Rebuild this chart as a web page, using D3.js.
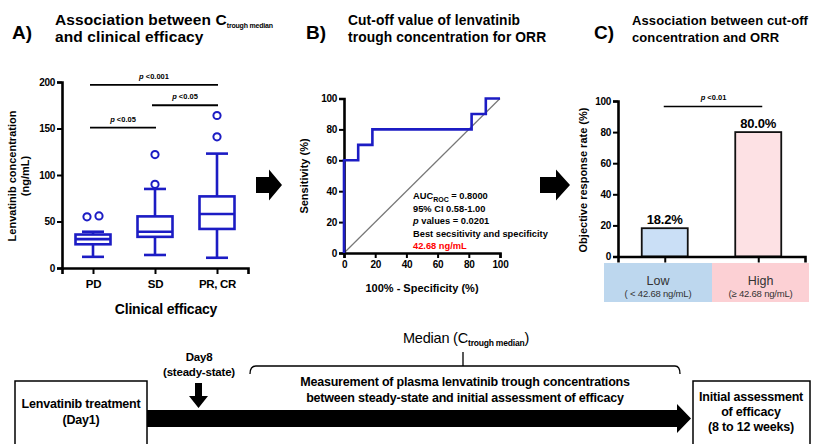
<!DOCTYPE html>
<html>
<head>
<meta charset="utf-8">
<title>lenvatinib</title>
<script src="https://cdn.jsdelivr.net/npm/d3@7"></script>
<style>
body { margin: 0; background: #fff; }
svg { font-family: "Liberation Sans", Arial, sans-serif; }
</style>
</head>
<body>
<svg width="821" height="444"></svg>
<script>

// A) trough concentration by clinical efficacy (box plot)
var groups = ["PD", "SD", "PR, CR"];
var whiskerLow = [12, 14, 11];
var q1 = [25.5, 33.5, 42];
var medians = [31, 39, 58];
var q3 = [36, 55.5, 77];
var whiskerHigh = [39, 85, 123];
var outliers = [[55, 56], [90, 122], [141, 164]];
var concTicks = [0, 50, 100, 150, 200];
var compPairs = [[0, 2], [1, 2], [0, 1]];
var compLevels = [197, 175, 151];
var compLabels = ["<0.001", "<0.05", "<0.05"];

// B) ROC curve
var fpr = [0, 0, 9.1, 9.1, 18.2, 18.2, 81.8, 81.8, 90.9, 90.9, 100];
var tpr = [0, 60, 60, 70, 70, 80, 80, 90, 90, 100, 100];
var pctTicks = [0, 20, 40, 60, 80, 100];
var rocNotes = ["= 0.8000", "95% CI 0.58-1.00", "values = 0.0201", "Best secsitivity and specificity", "42.68 ng/mL"];

// C) ORR by cut-off
var cutGroups = ["Low", "High"];
var cutRanges = ["( < 42.68 ng/mL)", "(\u2265 42.68 ng/mL)"];
var orr = [18.2, 80.0];
var orrP = "<0.01";

var blue = "#1c1cc4";
var svg = d3.select("svg");

function styleAxis(g) {
  g.select(".domain").attr("stroke", "#000").attr("stroke-width", 2.6);
  g.selectAll(".tick line").attr("stroke", "#000").attr("stroke-width", 2);
  g.selectAll(".tick text").attr("fill", "#000").attr("font-weight", "bold")
    .attr("font-size", 10).attr("letter-spacing", -0.3)
    .attr("font-family", "Liberation Sans, Arial, sans-serif");
}

function pText(g, x, y, val, size) {
  var t = g.append("text").attr("x", x).attr("y", y).attr("text-anchor", "middle")
    .attr("font-size", size).attr("font-weight", "bold");
  t.append("tspan").attr("font-style", "italic").text("p ");
  t.append("tspan").text(val);
}

function titleLine(x, y, s, size) {
  return svg.append("text").attr("x", x).attr("y", y).attr("font-weight", "bold")
    .attr("font-size", size).attr("letter-spacing", 0.1).text(s);
}

// panel letters and titles
var letters = [["A)", 12], ["B)", 306], ["C)", 594]];
letters.forEach(function(l) {
  svg.append("text").attr("x", l[1]).attr("y", 39).attr("font-size", 19)
    .attr("font-weight", "bold").text(l[0]);
});

var tA = titleLine(55, 25, "Association between C", 15.5);
tA.append("tspan").attr("font-size", 7).attr("dy", 3).attr("letter-spacing", -0.2).text("trough median");
titleLine(55, 42, "and clinical efficacy", 15.5);
titleLine(348, 25, "Cut-off value of lenvatinib", 13.8);
titleLine(348, 42, "trough concentration for ORR", 13.8);
titleLine(632, 25, "Association between cut-off", 13);
titleLine(632, 42, "concentration and ORR", 13);

// ---------- panel A ----------
var xA = d3.scalePoint().domain(groups).range([62, 248]).padding(0.5);
var yA = d3.scaleLinear().domain([0, 200]).range([268, 82]);
var gA = svg.append("g");

gA.append("g").attr("transform", "translate(62,0)")
  .call(d3.axisLeft(yA).tickValues(concTicks).tickSizeOuter(0).tickSize(5).tickPadding(2))
  .call(styleAxis);
gA.append("g").attr("transform", "translate(0,268)")
  .call(d3.axisBottom(xA).tickSizeOuter(0).tickSize(6).tickPadding(6))
  .call(styleAxis)
  .selectAll(".tick text").attr("font-size", 11.5);

var boxW = 35, capW = 22;
groups.forEach(function(g, i) {
  var cx = xA(g);
  var b = gA.append("g").attr("stroke", blue).attr("stroke-width", 2.6).attr("fill", "none");
  b.append("line").attr("x1", cx).attr("x2", cx).attr("y1", yA(whiskerLow[i])).attr("y2", yA(q1[i]));
  b.append("line").attr("x1", cx).attr("x2", cx).attr("y1", yA(q3[i])).attr("y2", yA(whiskerHigh[i]));
  b.append("line").attr("x1", cx - capW / 2).attr("x2", cx + capW / 2)
    .attr("y1", yA(whiskerLow[i])).attr("y2", yA(whiskerLow[i]));
  b.append("line").attr("x1", cx - capW / 2).attr("x2", cx + capW / 2)
    .attr("y1", yA(whiskerHigh[i])).attr("y2", yA(whiskerHigh[i]));
  b.append("rect").attr("x", cx - boxW / 2).attr("width", boxW)
    .attr("y", yA(q3[i])).attr("height", yA(q1[i]) - yA(q3[i]));
  b.append("line").attr("x1", cx - boxW / 2).attr("x2", cx + boxW / 2)
    .attr("y1", yA(medians[i])).attr("y2", yA(medians[i]));
  var pts = outliers[i];
  pts.forEach(function(v, k) {
    // points with near equal values are spread sideways like Prism does
    var close = pts.length > 1 && Math.abs(pts[0] - pts[1]) < 5;
    var dx = close ? (k === 0 ? -6 : 6) : 0;
    b.append("circle").attr("cx", cx + dx).attr("cy", yA(v)).attr("r", 3.6)
      .attr("stroke-width", 2).attr("fill", "#fff");
  });
});

compPairs.forEach(function(p, i) {
  var x1 = xA(groups[p[0]]) - 3, x2 = xA(groups[p[1]]) + 1;
  var yy = yA(compLevels[i]);
  gA.append("line").attr("x1", x1).attr("x2", x2).attr("y1", yy).attr("y2", yy)
    .attr("stroke", "#000").attr("stroke-width", 1.8);
  pText(gA, (x1 + x2) / 2, yy - 6, compLabels[i], 7.5);
});

gA.append("text").attr("transform", "translate(16,176) rotate(-90)").attr("text-anchor", "middle")
  .attr("font-size", 11).attr("font-weight", "bold").text("Lenvatinib  concentration");
gA.append("text").attr("transform", "translate(29,176) rotate(-90)").attr("text-anchor", "middle")
  .attr("font-size", 11).attr("font-weight", "bold").text("(ng/mL)");
gA.append("text").attr("x", 166).attr("y", 314).attr("text-anchor", "middle")
  .attr("font-size", 14).attr("font-weight", "bold").attr("letter-spacing", -0.2).text("Clinical efficacy");

// ---------- panel B ----------
var xB = d3.scaleLinear().domain([0, 100]).range([344, 500]);
var yB = d3.scaleLinear().domain([0, 100]).range([253, 98.5]);
var gB = svg.append("g");

gB.append("line").attr("x1", xB(0)).attr("y1", yB(0)).attr("x2", xB(100)).attr("y2", yB(100))
  .attr("stroke", "#777").attr("stroke-width", 1.2);

gB.append("g").attr("transform", "translate(344,0)")
  .call(d3.axisLeft(yB).tickValues(pctTicks).tickSizeOuter(0).tickSize(5).tickPadding(2))
  .call(styleAxis);
gB.append("g").attr("transform", "translate(0,253)")
  .call(d3.axisBottom(xB).tickValues(pctTicks).tickSizeOuter(0).tickSize(5).tickPadding(3))
  .call(styleAxis);

var roc = d3.line().x(function(d) { return xB(d[0]); }).y(function(d) { return yB(d[1]); });
gB.append("path").datum(d3.zip(fpr, tpr)).attr("d", roc)
  .attr("fill", "none").attr("stroke", blue).attr("stroke-width", 2.6);

gB.append("text").attr("transform", "translate(308,176) rotate(-90)").attr("text-anchor", "middle")
  .attr("font-size", 11).attr("font-weight", "bold").text("Sensitivity (%)");
gB.append("text").attr("x", 422).attr("y", 292).attr("text-anchor", "middle")
  .attr("font-size", 11).attr("font-weight", "bold").text("100% - Specificity (%)");

var nx = 413, ny = 199, nStep = 12.5;
var n0 = gB.append("text").attr("x", nx).attr("y", ny).attr("font-size", 9.3).attr("font-weight", "bold");
n0.append("tspan").text("AUC");
n0.append("tspan").attr("font-size", 7).attr("dy", 2.5).text("ROC");
n0.append("tspan").attr("dy", -2.5).text(" " + rocNotes[0]);
gB.append("text").attr("x", nx).attr("y", ny + nStep).attr("font-size", 9.3).attr("font-weight", "bold").text(rocNotes[1]);
var n2 = gB.append("text").attr("x", nx).attr("y", ny + nStep * 2).attr("font-size", 9.3).attr("font-weight", "bold");
n2.append("tspan").attr("font-style", "italic").text("p ");
n2.append("tspan").text(rocNotes[2]);
gB.append("text").attr("x", nx).attr("y", ny + nStep * 3).attr("font-size", 9.3).attr("font-weight", "bold").text(rocNotes[3]);
gB.append("text").attr("x", nx).attr("y", ny + nStep * 4).attr("font-size", 9.3).attr("font-weight", "bold")
  .attr("fill", "#f00").text(rocNotes[4]);

// ---------- panel C ----------
var xC = d3.scalePoint().domain(cutGroups).range([618, 805]).padding(0.5);
var yC = d3.scaleLinear().domain([0, 100]).range([256.5, 101]);
var gC = svg.append("g");
var barW = 46;
var barFill = ["#cadff6", "#fde1e4"];
var boxFill = ["#bdd7ee", "#fcd0d4"];

gC.selectAll("rect.bar").data(orr).enter().append("rect").attr("class", "bar")
  .attr("x", function(d, i) { return xC(cutGroups[i]) - barW / 2; })
  .attr("width", barW)
  .attr("y", function(d) { return yC(d); })
  .attr("height", function(d) { return yC(0) - yC(d); })
  .attr("fill", function(d, i) { return barFill[i]; })
  .attr("stroke", "#111").attr("stroke-width", 1.8);

gC.selectAll("text.val").data(orr).enter().append("text").attr("class", "val")
  .attr("x", function(d, i) { return xC(cutGroups[i]); })
  .attr("y", function(d) { return yC(d) - 4; })
  .attr("text-anchor", "middle").attr("font-size", 13).attr("font-weight", "bold")
  .attr("letter-spacing", -0.2)
  .text(function(d) { return d.toFixed(1) + "%"; });

gC.append("g").attr("transform", "translate(618,0)")
  .call(d3.axisLeft(yC).tickValues(pctTicks).tickSizeOuter(0).tickSize(5).tickPadding(2))
  .call(styleAxis);
gC.append("g").attr("transform", "translate(0,256.5)")
  .call(d3.axisBottom(xC).tickSizeOuter(0).tickSize(6).tickFormat(""))
  .call(styleAxis);

var pY = yC(96.5);
gC.append("line").attr("x1", xC("Low") - 1).attr("x2", xC("High") + 4).attr("y1", pY).attr("y2", pY)
  .attr("stroke", "#000").attr("stroke-width", 1.5);
pText(gC, (xC("Low") + xC("High")) / 2 + 2, pY - 6, orrP, 7.5);

// category labels under the axis
var catEdges = [604, 712, 809];
cutGroups.forEach(function(c, i) {
  gC.append("rect").attr("x", catEdges[i]).attr("y", 263).attr("width", catEdges[i + 1] - catEdges[i])
    .attr("height", 39).attr("fill", boxFill[i]);
  var mx = (catEdges[i] + catEdges[i + 1]) / 2;
  gC.append("text").attr("x", mx).attr("y", 285).attr("text-anchor", "middle")
    .attr("font-size", 12.5).attr("fill", "#333").text(c);
  gC.append("text").attr("x", mx).attr("y", 297).attr("text-anchor", "middle")
    .attr("font-size", 9.5).attr("fill", "#333").attr("letter-spacing", -0.2).text(cutRanges[i]);
});

gC.append("text").attr("transform", "translate(587,180) rotate(-90)").attr("text-anchor", "middle")
  .attr("font-size", 11).attr("font-weight", "bold").text("Objective response rate (%)");

// ---------- arrows between panels ----------
function blockArrow(x0, cy, shaftLen, headLen, shaftH, headH) {
  var pts = [[x0, cy - shaftH / 2], [x0 + shaftLen, cy - shaftH / 2], [x0 + shaftLen, cy - headH / 2],
    [x0 + shaftLen + headLen, cy], [x0 + shaftLen, cy + headH / 2], [x0 + shaftLen, cy + shaftH / 2],
    [x0, cy + shaftH / 2]];
  svg.append("path").attr("d", d3.line()(pts) + "Z").attr("fill", "#000");
}
blockArrow(256, 185, 13, 13, 16, 31);
blockArrow(540, 185, 16, 14, 16, 31);

// ---------- timeline ----------
var gT = svg.append("g");
gT.append("rect").attr("x", 15).attr("y", 381).attr("width", 132).attr("height", 80)
  .attr("fill", "#fff").attr("stroke", "#000").attr("stroke-width", 1.5);
gT.append("rect").attr("x", 693).attr("y", 381).attr("width", 117).attr("height", 80)
  .attr("fill", "#fff").attr("stroke", "#000").attr("stroke-width", 1.5);

var barPts = [[147, 410], [677, 410], [677, 404], [691, 418.5], [677, 433], [677, 427], [147, 427]];
gT.append("path").attr("d", d3.line()(barPts) + "Z").attr("fill", "#000");

var dPts = [[195, 383], [202, 383], [202, 396], [208, 396], [198.5, 408], [189, 396], [195, 396]];
gT.append("path").attr("d", d3.line()(dPts) + "Z").attr("fill", "#000");

gT.append("path")
  .attr("d", "M250,374 Q250,366 256,366 L675,366 Q680,366 680,374 M463,366 L463,352")
  .attr("fill", "none").attr("stroke", "#000").attr("stroke-width", 1.3);

function lines(arr, x, y0, step, size) {
  arr.forEach(function(s, i) {
    gT.append("text").attr("x", x).attr("y", y0 + i * step).attr("text-anchor", "middle")
      .attr("font-size", size).attr("font-weight", "bold").attr("letter-spacing", -0.2).text(s);
  });
}
lines(["Lenvatinib  treatment", "(Day1)"], 81, 408, 16, 12.5);
lines(["Day8", "(steady-state)"], 199, 361, 15, 11.5);
lines(["Measurement of plasma lenvatinib trough concentrations",
  "between steady-state and initial assessment of efficacy"], 465, 386, 16, 12.5);
lines(["Initial assessment", "of efficacy", "(8 to 12 weeks)"], 751, 401, 15, 12.5);

var med = gT.append("text").attr("x", 466).attr("y", 343).attr("text-anchor", "middle")
  .attr("font-size", 14.5).attr("letter-spacing", -0.2);
med.append("tspan").text("Median (C");
med.append("tspan").attr("font-size", 8.5).attr("font-weight", "bold").attr("dy", 3).text("trough median");
med.append("tspan").attr("dy", -3).text(")");

</script>
</body>
</html>
